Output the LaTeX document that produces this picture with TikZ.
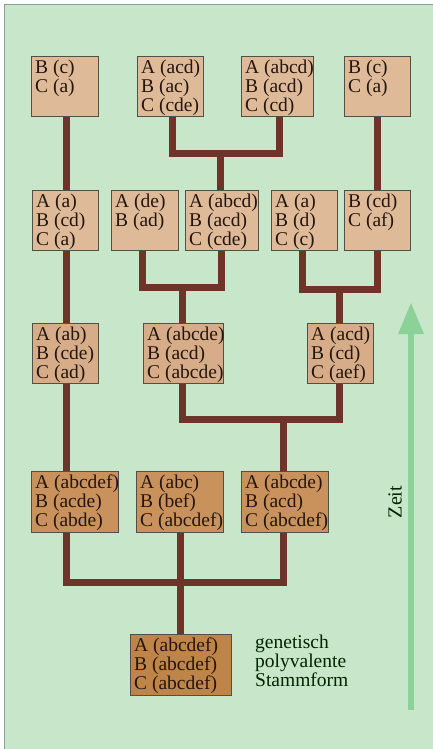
\documentclass[tikz,border=0pt]{standalone}
\usepackage{fontspec}
\setmainfont{Liberation Serif}
\definecolor{bg}{HTML}{C8E6C9}
\definecolor{frame}{HTML}{8E9E8E}
\definecolor{fillA}{HTML}{DEBA98}
\definecolor{fillB}{HTML}{D6AD88}
\definecolor{fillC}{HTML}{C9925D}
\definecolor{fillD}{HTML}{BF8447}
\definecolor{boxline}{HTML}{4F5146}
\definecolor{conncol}{HTML}{6E3429}
\definecolor{txtcol}{HTML}{24160F}
\definecolor{arrowgreen}{HTML}{8CD198}
\tikzset{
  boxnode/.style={draw=boxline, line width=0.9pt, rectangle, inner sep=0pt, anchor=north west},
  txtnode/.style={inner sep=0pt, anchor=north west, align=left, text=txtcol, font=\fontsize{19.5}{17}\selectfont},
  conn/.style={draw=conncol, line width=7pt},
}
\newcommand{\gbox}[7]{% name, x1, y1, x2, y2, fill, text
  \node[boxnode, fill=#6, minimum width=#4pt-#2pt, minimum height=#5pt-#3pt] (#1) at (#2,#3) {};
  \node[txtnode] (#1t) at ([shift={(4pt,-4pt)}]#1.north west) {#7};
}
\begin{document}
\begin{tikzpicture}[x=1pt,y=-1pt]
\useasboundingbox (0,0) rectangle (433,749);
\fill[white] (0,0) rectangle (433,749);
\fill[bg] (4,4) rectangle (433,749);
\draw[frame, line width=1.5pt] (4.5,749) -- (4.5,4.5) -- (433,4.5);

% coordinates for connectors
\coordinate (j1) at (220,153);
\coordinate (j2) at (182,287);
\coordinate (j3) at (339,289);
\coordinate (j4) at (283,419);
\coordinate (j5) at (180,582);

% connectors (drawn first, behind boxes)
\draw[conn] (66,116) -- (66,190);
\draw[conn] (377,116) -- (377,190);
\draw[conn] (172,116) |- (j1) -| (279,116);
\draw[conn] (j1) -- (220,190);
\draw[conn] (66,250) -- (66,323);
\draw[conn] (142,250) |- (j2) -| (221,250);
\draw[conn] (j2) -- (182,323);
\draw[conn] (302,250) |- (j3) -| (377,250);
\draw[conn] (j3) -- (339,323);
\draw[conn] (66,383) -- (66,471);
\draw[conn] (182,383) |- (j4) -| (339,383);
\draw[conn] (j4) -- (283,471);
\draw[conn] (66,532) |- (j5) -| (283,532);
\draw[conn] (180,532) -- (180,634);

% row 1
\gbox{r1a}{31}{56}{98}{116}{fillA}{B (c)\\C (a)}
\gbox{r1b}{137}{56}{203}{116}{fillA}{A (acd)\\B (ac)\\C (cde)}
\gbox{r1c}{241}{56}{313}{116}{fillA}{A (abcd)\\B (acd)\\C (cd)}
\gbox{r1d}{344}{56}{410}{116}{fillA}{B (c)\\C (a)}
% row 2
\gbox{r2a}{32}{190}{98}{250}{fillA}{A (a)\\B (cd)\\C (a)}
\gbox{r2b}{111}{190}{178}{250}{fillA}{A (de)\\B (ad)}
\gbox{r2c}{185}{190}{258}{250}{fillA}{A (abcd)\\B (acd)\\C (cde)}
\gbox{r2d}{271}{190}{337}{250}{fillA}{A (a)\\B (d)\\C (c)}
\gbox{r2e}{344}{190}{410}{250}{fillA}{B (cd)\\C (af)}
% row 3
\gbox{r3a}{32}{323}{98}{383}{fillB}{A (ab)\\B (cde)\\C (ad)}
\gbox{r3b}{143}{323}{223}{383}{fillB}{A (abcde)\\B (acd)\\C (abcde)}
\gbox{r3c}{307}{323}{373}{383}{fillB}{A (acd)\\B (cd)\\C (aef)}
% row 4
\gbox{r4a}{31}{471}{118}{532}{fillC}{A (abcdef)\\B (acde)\\C (abde)}
\gbox{r4b}{136}{471}{223}{532}{fillC}{A (abc)\\B (bef)\\C (abcdef)}
\gbox{r4c}{241}{471}{328}{532}{fillC}{A (abcde)\\B (acd)\\C (abcdef)}
% row 5
\gbox{r5a}{130}{634}{231}{695}{fillD}{A (abcdef)\\B (abcdef)\\C (abcdef)}

\node[txtnode, text=black!85!green] (stamm) at (255,635) {genetisch\\polyvalente\\Stammform};

% time arrow
\fill[arrowgreen] (408,710) rectangle (414,331);
\fill[arrowgreen] (398,334) -- (411,303) -- (424,334) -- cycle;
\node[rotate=90, inner sep=0pt, text=black!85!green, font=\fontsize{20}{20}\selectfont] (zeit) at (395,502) {Zeit};
\end{tikzpicture}
\end{document}
